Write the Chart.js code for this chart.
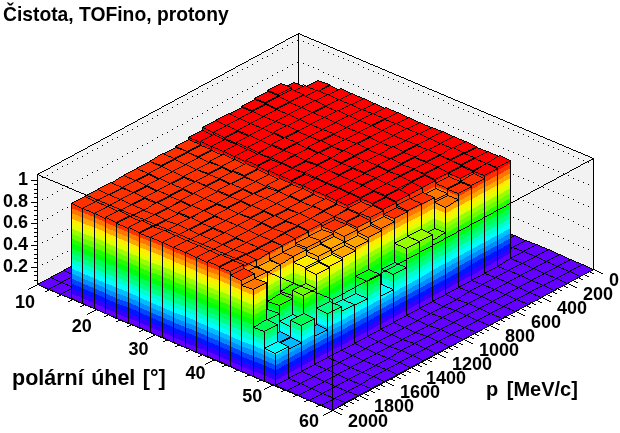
<!DOCTYPE html>
<html><head><meta charset="utf-8">
<style>html,body{margin:0;padding:0;background:#fff}canvas{display:block}</style>
<script src="https://cdn.jsdelivr.net/npm/chart.js@4"></script>
</head><body>
<canvas id="c" width="620" height="433"></canvas>
<script>
const titleText = "Čistota, TOFino, protony";
const thetaTitle = "polární úhel [°]";
const pTitle = "p [MeV/c]";
const thetaLow = [15.77,17.69,19.62,21.54,23.46,25.38,27.31,29.23,31.15,33.08,35,36.92,38.85,40.77,42.69,44.62,46.54,48.46];
const pLow = [200,300,400,500,600,700,800,900,1000,1100,1200,1300,1400,1500,1600,1700,1800,1900];
const p0200 = [0,.932,.926,.945,.942,.938,.942,.948,.945,.942,.940,.945,.946,.945,.942,.938,.942,.945];
const p0300 = [.935,.950,.950,.952,.950,.948,.952,.955,.950,.950,.948,.952,.950,.948,.950,.948,.940,.936];
const p0400 = [.990,.972,.962,.960,.955,.958,.955,.958,.955,.953,.955,.955,.952,.952,.948,.945,.935,.909];
const p0500 = [.982,.975,.966,.962,.965,.958,.960,.958,.960,.956,.955,.956,.954,.950,.950,.942,.905,.899];
const p0600 = [.973,.968,.968,.966,.960,.962,.964,.958,.960,.962,.956,.952,.955,.952,.945,.938,.860,.844];
const p0700 = [.964,.970,.966,.968,.972,.962,.960,.964,.958,.960,.955,.957,.950,.952,.948,.932,.885,.605];
const p0800 = [.970,.966,.968,.962,.966,.970,.962,.958,.962,.955,.958,.952,.955,.948,.945,.935,.895,.660];
const p0900 = [.973,.966,.958,.964,.962,.958,.964,.958,.952,.956,.952,.955,.948,.948,.938,.930,.885,.660];
const p1000 = [.945,.948,.950,.944,.948,.952,.946,.950,.948,.942,.946,.942,.944,.940,.912,.915,.863,.485];
const p1100 = [.922,.918,.912,.920,.916,.924,.918,.912,.920,.914,.918,.910,.914,.908,.899,.890,.844,.347];
const p1200 = [.920,.914,.910,.916,.912,.918,.910,.914,.908,.914,.910,.906,.910,.906,.878,.872,.816,.549];
const p1300 = [.922,.916,.912,.910,.915,.910,.914,.906,.910,.908,.910,.904,.906,.902,.853,.826,.789,.393];
const p1400 = [.916,.912,.915,.906,.910,.907,.904,.910,.905,.908,.902,.906,.902,.896,.853,.816,.770,.402];
const p1500 = [.918,.910,.912,.910,.904,.910,.906,.902,.906,.903,.905,.898,.902,.894,.835,.780,.761,.448];
const p1600 = [.914,.916,.908,.910,.906,.902,.907,.903,.900,.904,.900,.902,.896,.892,.835,.586,.632,.301];
const p1700 = [.921,.912,.914,.906,.908,.902,.900,.905,.901,.898,.902,.896,.898,.892,.826,.559,.411,.467];
const p1800 = [.918,.920,.912,.914,.908,.910,.904,.908,.905,.902,.906,.900,.904,.896,.835,.485,.319,.310];
const p1900 = [.922,.920,.918,.921,.916,.919,.914,.917,.915,.912,.916,.913,.915,.912,.881,.835,.494,.338];
const purityRows = [p0200,p0300,p0400,p0500,p0600,p0700,p0800,p0900,p1000,p1100,p1200,p1300,p1400,p1500,p1600,p1700,p1800,p1900];

const thetaBinCount = 26, pBinCount = 20;
const zMin = 0.041, zTop = 1.055, levelStep = 0.0465;
const FONT = '"Liberation Sans", Arial, sans-serif';
const levelColor = i => {
  const idx = Math.floor((i + 0.99) * 2.5);
  return `hsl(${280 - (idx + 1) * 5.6},100%,50%)`;
};
const levelOf = z => z <= zMin ? 0 : Math.min(19, Math.floor((z - zMin) / levelStep));

const lego = {
  id: 'lego',
  beforeDatasetsDraw(chart) {
    const {ctx, scales} = chart, X = scales.x, P = scales.pAxis, Z = scales.y;
    const U = {x: 295, y: 125.5}, V = {x: -261, y: 141};
    const base = Z.getPixelForValue(zMin);
    const O = {x: X.left + 261, y: base - 141};
    const fx = t => (X.getPixelForValue(t) - X.left) / X.width;
    const fp = p => (P.getPixelForValue(p) - P.left) / P.width;
    const pt = (t, p, z) => {
      const a = fx(t), b = fp(p);
      return [Math.round(O.x + a * U.x + b * V.x),
              Math.round(O.y + a * U.y + b * V.y - (base - Z.getPixelForValue(Math.max(z, zMin))))];
    };
    // aliased rasterisation, like the reference's bitmap output
    const line = (a, b, dotEvery) => {
      let x = a[0], y = a[1], n = 0;
      const dx = Math.abs(b[0] - x), dy = -Math.abs(b[1] - y);
      const sx = x < b[0] ? 1 : -1, sy = y < b[1] ? 1 : -1;
      let err = dx + dy;
      for (;;) {
        if (!dotEvery || n % dotEvery === 0) ctx.fillRect(x, y, 1, 1);
        n++;
        if (x === b[0] && y === b[1]) break;
        const e = 2 * err;
        if (e >= dy) { err += dy; x += sx; }
        if (e <= dx) { err += dx; y += sy; }
      }
    };
    const fillConvex = (pts, color) => {
      let lo = Infinity, hi = -Infinity;
      pts.forEach(q => { lo = Math.min(lo, q[1]); hi = Math.max(hi, q[1]); });
      ctx.fillStyle = color;
      for (let y = lo; y <= hi; y++) {
        let a = Infinity, b = -Infinity;
        for (let i = 0; i < pts.length; i++) {
          const p = pts[i], q = pts[(i + 1) % pts.length];
          const y0 = Math.min(p[1], q[1]), y1 = Math.max(p[1], q[1]);
          if (y < y0 || y > y1) continue;
          if (y0 === y1) { a = Math.min(a, p[0], q[0]); b = Math.max(b, p[0], q[0]); continue; }
          const x = Math.round(p[0] + (q[0] - p[0]) * (y - p[1]) / (q[1] - p[1]));
          a = Math.min(a, x); b = Math.max(b, x);
        }
        if (b >= a) ctx.fillRect(a, y, b - a + 1, 1);
      }
    };
    const outline = pts => {
      ctx.fillStyle = '#000';
      pts.forEach((q, i) => line(q, pts[(i + 1) % pts.length]));
    };
    const seg = (a, b, dot) => { ctx.fillStyle = '#000'; line(a, b, dot); };

    ctx.save();
    const tA = X.min, tB = X.max, pA = P.min, pB = P.max;
    // back walls
    fillConvex([pt(tA,pB,zMin), pt(tA,pA,zMin), pt(tA,pA,zTop), pt(tA,pB,zTop)], '#f2f2f2');
    fillConvex([pt(tA,pA,zMin), pt(tB,pA,zMin), pt(tB,pA,zTop), pt(tA,pA,zTop)], '#f2f2f2');
    // dotted grid on the walls
    Z.ticks.forEach(k => {
      if (k.value < 0.1 || k.value > 1.01) return;
      seg(pt(tA,pB,k.value), pt(tA,pA,k.value), 5);
      seg(pt(tA,pA,k.value), pt(tB,pA,k.value), 5);
    });
    // wall borders
    seg(pt(tA,pB,zTop), pt(tA,pA,zTop));
    seg(pt(tA,pA,zTop), pt(tB,pA,zTop));
    seg(pt(tA,pA,zTop), pt(tA,pA,zMin));
    seg(pt(tB,pA,zTop), pt(tB,pA,zMin));
    seg(pt(tA,pB,zTop), pt(tA,pB,zMin));
    // bars, back to front
    const tw = (tB - tA) / thetaBinCount, pw = (pB - pA) / pBinCount;
    const face = (a, b, z) => {
      const lv = levelOf(z);
      for (let i = lv; i >= 0; i--) {
        const up = i === lv ? z : zMin + (i + 1) * levelStep;
        fillConvex([pt(a[0],a[1],zMin), pt(b[0],b[1],zMin), pt(b[0],b[1],up), pt(a[0],a[1],up)], levelColor(i));
      }
      outline([pt(a[0],a[1],zMin), pt(b[0],b[1],zMin), pt(b[0],b[1],z), pt(a[0],a[1],z)]);
    };
    for (let ti = 0; ti < thetaBinCount; ti++) {
      for (let qi = 0; qi < pBinCount; qi++) {
        const t0 = tA + ti * tw, t1 = t0 + tw, p0 = pA + qi * pw, p1 = p0 + pw;
        const col = thetaLow.findIndex(v => Math.abs(v - t0) < tw / 2);
        const row = pLow.indexOf(p0);
        const z = (col >= 0 && row >= 0) ? purityRows[row][col] : 0;
        if (z > zMin) {
          face([t0,p1], [t1,p1], z);
          face([t1,p1], [t1,p0], z);
        }
        const top = [pt(t0,p0,z), pt(t1,p0,z), pt(t1,p1,z), pt(t0,p1,z)];
        fillConvex(top, levelColor(levelOf(z)));
        outline(top);
      }
    }
    // front box and axes on top
    seg(pt(tA,pB,zTop), pt(tB,pB,zTop));
    seg(pt(tB,pB,zTop), pt(tB,pA,zTop));
    seg(pt(tB,pB,zTop), pt(tB,pB,zMin));
    seg(pt(tA,pB,zMin), pt(tB,pB,zMin));
    seg(pt(tB,pB,zMin), pt(tB,pA,zMin));
    // z axis ticks
    const zx = Math.round(X.left);
    for (let k = 0; k <= 25; k++) {
      const v = k * 0.04;
      if (v < zMin) continue;
      const y = Math.round(Z.getPixelForValue(v));
      seg([zx, y], [zx - (k % 5 ? 3 : 6), y]);
    }
    // oblique axis ticks and labels
    const tick = (a, dir, len) => {
      const n = Math.hypot(dir.x, dir.y);
      seg(a, [Math.round(a[0] + dir.x / n * len), Math.round(a[1] + dir.y / n * len)]);
    };
    for (let v = tA; v <= tB + .01; v += 2) tick(pt(v,pB,zMin), V, (v - tA) % 10 ? 5 : 10);
    for (let v = pA; v <= pB + .01; v += 40) tick(pt(tB,v,zMin), U, v % 200 ? 5 : 10);
    ctx.fillStyle = '#000';
    ctx.font = 'bold 18px ' + FONT;
    ctx.textBaseline = 'middle';
    ctx.textAlign = 'center';
    X.ticks.forEach(k => {
      const a = pt(k.value, pB, zMin), f = fx(k.value);
      ctx.fillText(k.label, a[0] - 12 - 11 * f, a[1] + 19 - 7 * f);
    });
    ctx.textAlign = 'left';
    P.ticks.forEach(k => {
      const a = pt(tB, k.value, zMin);
      ctx.fillText(k.label, a[0] + 16, a[1] + 12);
    });
    ctx.font = 'bold 21.5px ' + FONT;
    ctx.wordSpacing = '1.5px';
    ctx.fillText(thetaTitle, 12, 379);
    ctx.font = 'bold 20px ' + FONT;
    ctx.wordSpacing = '3px';
    ctx.fillText(pTitle, 486, 390);
    ctx.wordSpacing = '0px';
    ctx.restore();
  }
};

new Chart(document.getElementById('c'), {
  type: 'scatter',
  plugins: [lego],
  data: {
    datasets: purityRows.map((row, i) => ({
      label: 'p ' + pLow[i],
      data: row.map((v, j) => ({x: thetaLow[j], y: v})),
      pointRadius: 0, showLine: false
    }))
  },
  options: {
    responsive: false, animation: false, events: [],
    layout: {padding: {left: 3, right: 27, top: 0, bottom: 23}},
    plugins: {
      legend: {display: false}, tooltip: {enabled: false},
      title: {display: true, text: titleText, align: 'start', color: '#000',
        font: {family: FONT, size: 19.3, weight: 'bold', lineHeight: 1.2},
        padding: {top: 4, bottom: 5.84}}
    },
    scales: {
      x: {type: 'linear', min: 10, max: 60, display: false, ticks: {stepSize: 10, callback: v => String(v)}},
      pAxis: {type: 'linear', axis: 'x', position: 'bottom', min: 0, max: 2000, display: false,
        ticks: {stepSize: 200, callback: v => String(v)}},
      y: {type: 'linear', min: 0.041 - 126 / 108.6, max: 0.041 + 251 / 108.6,
        afterFit: s => { s.width = 34; },
        border: {display: false},
        grid: {display: false, drawTicks: false},
        ticks: {stepSize: 0.2, padding: 9, color: '#000', autoSkip: false,
          font: {family: FONT, size: 18, weight: 'bold'},
          callback: v => (v > 0.1 && v < 1.01) ? String(Math.round(v * 10) / 10) : ''}}
    }
  }
});
</script>
</body></html>
